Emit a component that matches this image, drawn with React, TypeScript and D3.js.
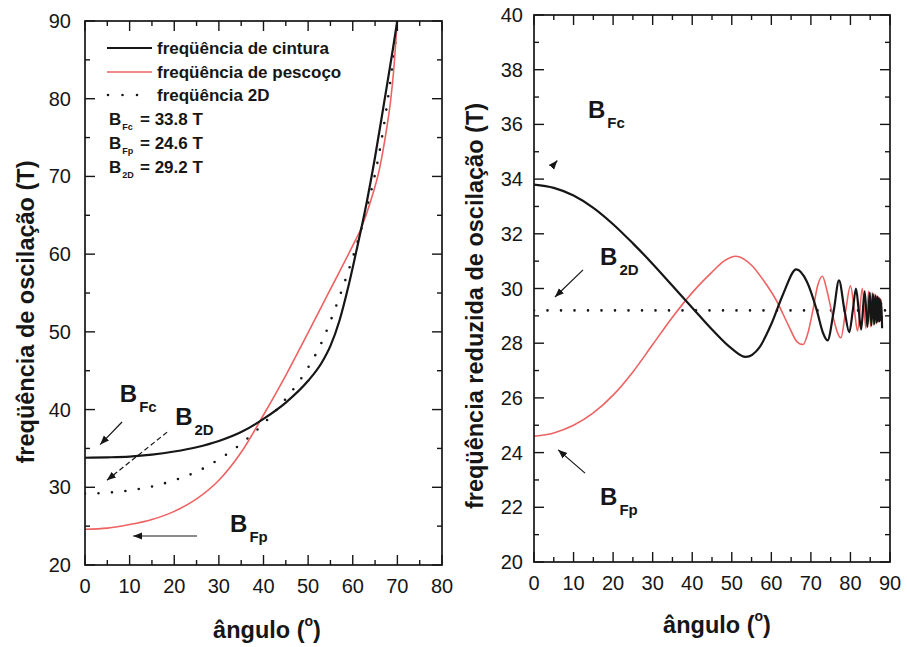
import React from 'react';
import * as d3 from 'd3';

type Pt = [number, number];

// ---- painel esquerdo: frequência de oscilação (T) vs ângulo ----
const cinturaLeft: Pt[] = [
  [0, 33.8], [5, 33.85], [10, 33.95], [15, 34.2], [20, 34.6], [25, 35.15], [30, 35.95],
  [35, 37.1], [40, 38.8], [45, 40.9], [50, 43.7], [53, 46.0], [55, 48.2], [57, 51.4],
  [59, 55.8], [61, 60.9], [63, 66.3], [65, 72.5], [67, 79.4], [69, 86.4], [70.1, 90.5],
];
const pescocoLeft: Pt[] = [
  [0, 24.6], [5, 24.75], [10, 25.2], [15, 25.85], [20, 26.9], [25, 28.5], [30, 30.9],
  [35, 34.5], [40, 39.3], [45, 44.4], [50, 49.9], [55, 55.5], [60, 61.1], [62, 63.5],
  [64, 66.8], [66, 71.0], [67.5, 75.8], [68.5, 79.8], [69.3, 84.5], [69.9, 89.5], [70.2, 92],
];
const bidimLeft: Pt[] = [
  [0, 29.2], [5, 29.3], [10, 29.6], [15, 30.1], [20, 30.9], [25, 32.0], [30, 33.6],
  [35, 35.6], [40, 38.2], [45, 41.4], [50, 45.4], [53, 48.6], [56, 52.9], [59, 57.8],
  [62, 63.4], [64, 67.8], [66, 73.2], [68, 80.5], [69.5, 87.0], [70.3, 91],
];

// ---- painel direito: frequência reduzida (T) vs ângulo ----
const cinturaRight: Pt[] = [
  [0, 33.8], [5, 33.68], [10, 33.4], [15, 32.95], [20, 32.35], [25, 31.65], [30, 30.9],
  [35, 30.1], [40, 29.3], [45, 28.5], [50, 27.8], [53.5, 27.5], [57, 27.85], [60, 28.7],
  [63, 29.8], [66.3, 30.7], [69, 30.25], [71.5, 29.2], [73, 28.4], [74.2, 28.1], [75.8, 29.2],
  [77.1, 30.3], [78.5, 29.2], [79.7, 28.4], [80.6, 29.2], [81.4, 30.0], [82.1, 29.2],
  [82.7, 28.5], [83.6, 29.9], [84.3, 28.6], [84.9, 29.85], [85.3, 28.65], [85.7, 29.8],
  [86.0, 28.7], [86.3, 29.75], [86.6, 28.75], [86.8, 29.7], [87.0, 28.8], [87.2, 29.65],
  [87.35, 28.8], [87.5, 29.6], [87.65, 28.85], [87.8, 29.5], [88.0, 28.55],
];
const pescocoRight: Pt[] = [
  [0, 24.6], [5, 24.72], [10, 25.0], [15, 25.45], [20, 26.1], [25, 26.95], [30, 27.95],
  [35, 28.95], [40, 29.85], [45, 30.6], [48, 31.0], [51, 31.18], [55, 30.85], [58, 30.3],
  [61.2, 29.58], [64.5, 28.6], [66.5, 28.05], [68, 27.95], [69.3, 28.4], [70.5, 29.2],
  [71.7, 30.1], [72.9, 30.45], [74.1, 29.9], [75.2, 29.2], [77.6, 28.2], [78.8, 29.2],
  [80, 30.1], [81, 29.2], [81.8, 28.45], [83, 30.0], [83.9, 28.55], [84.6, 29.9],
  [85.1, 28.6], [85.5, 29.85], [85.9, 28.65], [86.2, 29.8], [86.5, 28.7], [86.7, 29.75],
  [86.9, 28.75], [87.1, 29.7], [87.3, 28.8], [87.45, 29.65], [87.6, 28.8], [87.75, 29.6],
  [87.9, 28.85], [88.1, 29.0],
];
const bidimRight: Pt[] = [[0, 29.2], [89, 29.2]];

// ticks
const leftXMajor = [0, 10, 20, 30, 40, 50, 60, 70, 80];
const leftXMinor = [5, 15, 25, 35, 45, 55, 65, 75];
const leftYMajor = [20, 30, 40, 50, 60, 70, 80, 90];
const leftYMinor = [25, 35, 45, 55, 65, 75, 85];
const rightXMajor = [0, 10, 20, 30, 40, 50, 60, 70, 80, 90];
const rightXMinor = [5, 15, 25, 35, 45, 55, 65, 75, 85];
const rightYMajor = [20, 22, 24, 26, 28, 30, 32, 34, 36, 38, 40];
const rightYMinor = [21, 23, 25, 27, 29, 31, 33, 35, 37, 39];

const legendItems = ['freqüência de cintura', 'freqüência de pescoço', 'freqüência 2D'];
const legendValues = [
  { sub: 'Fc', value: '= 33.8 T' },
  { sub: 'Fp', value: '= 24.6 T' },
  { sub: '2D', value: '= 29.2 T' },
];

const FONT = '"Liberation Sans", Arial, Helvetica, sans-serif';
const INK = '#161616';
const RED = '#ee6262';

type Scale = d3.ScaleLinear<number, number>;

function Frame({ x, y, xMajor, xMinor, yMajor, yMinor, labelGap }: {
  x: Scale; y: Scale; xMajor: number[]; xMinor: number[]; yMajor: number[]; yMinor: number[]; labelGap: number;
}) {
  const [x0, x1] = x.range();
  const [y0, y1] = y.range();
  const tick = (t: number, len: number, key: string) => (
    <g key={key}>
      <line x1={x(t)} x2={x(t)} y1={y0} y2={y0 - len} />
      <line x1={x(t)} x2={x(t)} y1={y1} y2={y1 + len} />
    </g>
  );
  const ytick = (t: number, len: number, key: string) => (
    <g key={key}>
      <line x1={x0} x2={x0 + len} y1={y(t)} y2={y(t)} />
      <line x1={x1} x2={x1 - len} y1={y(t)} y2={y(t)} />
    </g>
  );
  return (
    <g>
      <g stroke={INK} strokeWidth={1.4}>
        {xMajor.map((t) => tick(t, 10, 'xM' + t))}
        {xMinor.map((t) => tick(t, 5, 'xm' + t))}
        {yMajor.map((t) => ytick(t, 10, 'yM' + t))}
        {yMinor.map((t) => ytick(t, 5, 'ym' + t))}
      </g>
      <rect x={x0} y={y1} width={x1 - x0} height={y0 - y1} fill="none" stroke={INK} strokeWidth={1.7} />
      <g fontFamily={FONT} fontSize={20} fill={INK}>
        {xMajor.map((t) => (
          <text key={'xl' + t} x={x(t)} y={y0 + 21} textAnchor="middle" dominantBaseline="central">{t}</text>
        ))}
        {yMajor.map((t) => (
          <text key={'yl' + t} x={x0 - labelGap} y={y(t)} textAnchor="end" dominantBaseline="central">{t}</text>
        ))}
      </g>
    </g>
  );
}

function BLabel({ x, y, sub }: { x: number; y: number; sub: string }) {
  return (
    <text x={x} y={y} fontFamily={FONT} fontWeight="bold" fontSize={24} fill={INK}>
      B<tspan fontSize={15} dx={2} dy={10}>{sub}</tspan>
    </text>
  );
}

function Arrow({ from, to, dashed }: { from: [number, number]; to: [number, number]; dashed?: boolean }) {
  return (
    <line x1={from[0]} y1={from[1]} x2={to[0]} y2={to[1]} stroke={INK} strokeWidth={1.2}
      strokeDasharray={dashed ? '5 3' : undefined} markerEnd="url(#ah)" />
  );
}

function Series({ x, y, black, red, dotted, clip }: {
  x: Scale; y: Scale; black: Pt[]; red: Pt[]; dotted: Pt[]; clip: string;
}) {
  const line = d3.line<Pt>().x((d) => x(d[0])).y((d) => y(d[1])).curve(d3.curveMonotoneX);
  return (
    <g clipPath={`url(#${clip})`} fill="none">
      <path d={line(dotted) || ''} stroke={INK} strokeWidth={2.6} strokeLinecap="round" strokeDasharray="0 13.5" />
      <path d={line(red) || ''} stroke={RED} strokeWidth={1.6} />
      <path d={line(black) || ''} stroke={INK} strokeWidth={2.2} />
    </g>
  );
}

export default function App() {
  const xL = d3.scaleLinear().domain([0, 80]).range([85, 442]);
  const yL = d3.scaleLinear().domain([20, 90]).range([565, 21]);
  const xR = d3.scaleLinear().domain([0, 90]).range([534, 890]);
  const yR = d3.scaleLinear().domain([20, 40]).range([562, 15]);

  const pl = (s: [Scale, Scale], p: Pt): [number, number] => [s[0](p[0]), s[1](p[1])];
  const L: [Scale, Scale] = [xL, yL];
  const R: [Scale, Scale] = [xR, yR];

  return (
    <svg width={907} height={647} style={{ position: 'absolute', left: 0, top: 0, background: '#fff' }}>
      <defs>
        <clipPath id="clipL"><rect x={85} y={21} width={357} height={544} /></clipPath>
        <clipPath id="clipR"><rect x={534} y={15} width={356} height={547} /></clipPath>
        <marker id="ah" viewBox="0 0 10 10" refX={10} refY={5} markerWidth={9} markerHeight={9}
          markerUnits="userSpaceOnUse" orient="auto">
          <path d="M0,1 L10,5 L0,9 z" fill={INK} />
        </marker>
      </defs>

      {/* painel esquerdo */}
      <Series x={xL} y={yL} black={cinturaLeft} red={pescocoLeft} dotted={bidimLeft} clip="clipL" />
      <Frame x={xL} y={yL} xMajor={leftXMajor} xMinor={leftXMinor} yMajor={leftYMajor} yMinor={leftYMinor} labelGap={14} />

      <g fontFamily={FONT} fontWeight="bold" fontSize={17} fill={INK}>
        <line x1={107} x2={152} y1={48} y2={48} stroke={INK} strokeWidth={2.2} />
        <line x1={107} x2={152} y1={72} y2={72} stroke={RED} strokeWidth={1.6} />
        <line x1={108} x2={140} y1={95} y2={95} stroke={INK} strokeWidth={2.6} strokeLinecap="round" strokeDasharray="0 14.5" />
        {legendItems.map((t, i) => (
          <text key={t} x={157} y={54 + i * 23.5}>{t}</text>
        ))}
        {legendValues.map((v, i) => (
          <text key={v.sub} x={109} y={125 + i * 24}>
            B<tspan fontSize={9} dx={1} dy={5}>{v.sub}</tspan>
            <tspan x={140} dy={-5}>{v.value}</tspan>
          </text>
        ))}
      </g>

      <BLabel x={xL(7.8)} y={yL(40.98)} sub="Fc" />
      <BLabel x={xL(20.2)} y={yL(38.0)} sub="2D" />
      <BLabel x={xL(32.5)} y={yL(24.25)} sub="Fp" />
      <Arrow from={pl(L, [8.3, 38.4])} to={pl(L, [3.4, 35.5])} />
      <Arrow from={pl(L, [18.4, 37.1])} to={pl(L, [4.9, 30.9])} dashed />
      <Arrow from={pl(L, [25.1, 23.73])} to={pl(L, [10.8, 23.73])} />

      <text x={267} y={630} textAnchor="middle" dominantBaseline="central" fontFamily={FONT} fontWeight="bold" fontSize={23.5} fill={INK}>
        ângulo (<tspan fontSize={14} dy={-9}>o</tspan><tspan dy={9}>)</tspan>
      </text>
      <text transform="translate(26,312) rotate(-90)" textAnchor="middle" dominantBaseline="central" fontFamily={FONT} fontWeight="bold" fontSize={23.5} fill={INK}>
        freqüência de oscilação (T)
      </text>

      {/* painel direito */}
      <Series x={xR} y={yR} black={cinturaRight} red={pescocoRight} dotted={bidimRight} clip="clipR" />
      <Frame x={xR} y={yR} xMajor={rightXMajor} xMinor={rightXMinor} yMajor={rightYMajor} yMinor={rightYMinor} labelGap={11} />

      <BLabel x={xR(13.65)} y={yR(36.23)} sub="Fc" />
      <BLabel x={xR(16.7)} y={yR(30.86)} sub="2D" />
      <BLabel x={xR(16.7)} y={yR(22.08)} sub="Fp" />
      <Arrow from={pl(R, [4.5, 34.45])} to={pl(R, [5.9, 34.68])} />
      <Arrow from={pl(R, [12.4, 30.68])} to={pl(R, [5.3, 29.69])} />
      <Arrow from={pl(R, [12.9, 23.25])} to={pl(R, [6.1, 24.1])} />

      <text x={717} y={625} textAnchor="middle" dominantBaseline="central" fontFamily={FONT} fontWeight="bold" fontSize={23.5} fill={INK}>
        ângulo (<tspan fontSize={14} dy={-9}>o</tspan><tspan dy={9}>)</tspan>
      </text>
      <text transform="translate(475,306) rotate(-90)" textAnchor="middle" dominantBaseline="central" fontFamily={FONT} fontWeight="bold" fontSize={23.5} fill={INK}>
        freqüência reduzida de oscilação (T)
      </text>
    </svg>
  );
}
